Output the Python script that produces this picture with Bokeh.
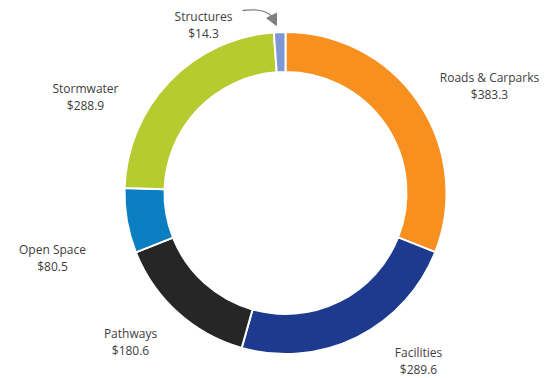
import math
from bokeh.plotting import figure
from bokeh.models import Range1d, Arrow, NormalHead
from bokeh.core.properties import value
from bokeh.embed import file_html
from bokeh.resources import INLINE

# ---- data ----
categories = ["Roads & Carparks", "Facilities", "Pathways", "Open Space", "Stormwater", "Structures"]
values = [383.3, 289.6, 180.6, 80.5, 288.9, 14.3]
colors = ["#F7901E", "#1E3A8E", "#262626", "#0B7DC1", "#B5CB2F", "#7F98D4"]

# ---- layout (pixel space of the frame) ----
W, H = 547, 378
OFF = 0
cx, cy = 285 - OFF, H - (192.5 - OFF)
r_out, r_in = 161, 121

def py(page_y):
    return H - (page_y - OFF)

def px(page_x):
    return page_x - OFF

p = figure(width=W, height=H, output_backend="svg", toolbar_location=None,
           x_range=Range1d(0, W), y_range=Range1d(0, H), min_border=0,
           x_axis_type=None, y_axis_type=None)
p.outline_line_color = None
p.grid.visible = False
p.background_fill_color = "white"
p.border_fill_color = "white"

total = sum(values)
starts, ends = [], []
cum = 0.0
for v in values:
    a0 = math.pi / 2 - cum / total * 2 * math.pi
    cum += v
    a1 = math.pi / 2 - cum / total * 2 * math.pi
    starts.append(a0)
    ends.append(a1)

p.annular_wedge(x=[cx] * len(values), y=[cy] * len(values), inner_radius=r_in, outer_radius=r_out,
                start_angle=starts, end_angle=ends, direction="clock",
                fill_color=colors, line_color="white", line_width=2)

# labels
label_px = [489, 418, 130, 52, 85, 203]
label_py = [77, 352, 333, 249, 88, 16]
for name, v, lx, ly in zip(categories, values, label_px, label_py):
    p.text(x=[px(lx)], y=[py(ly)], text=[name], text_align="center", text_baseline="middle",
           text_font=value("Open Sans"), text_font_size="12px", text_color="#404040")
    p.text(x=[px(lx)], y=[py(ly + 17)], text=["$%.1f" % v], text_align="center", text_baseline="middle",
           text_font=value("Open Sans"), text_font_size="12px", text_color="#404040")

# curved arrow to Structures
p.bezier(x0=[px(242)], y0=[py(10)], x1=[px(272)], y1=[py(17)],
         cx0=[px(258)], cy0=[py(8)], cx1=[px(268)], cy1=[py(11)],
         line_color="#808080", line_width=1.3)
p.add_layout(Arrow(end=NormalHead(size=11, fill_color="#808080", line_color="#808080"),
                   x_start=px(271), y_start=py(15), x_end=px(276), y_end=py(25),
                   line_color="#808080", line_width=1.3))

open("out.html", "w").write(file_html(p, INLINE))
